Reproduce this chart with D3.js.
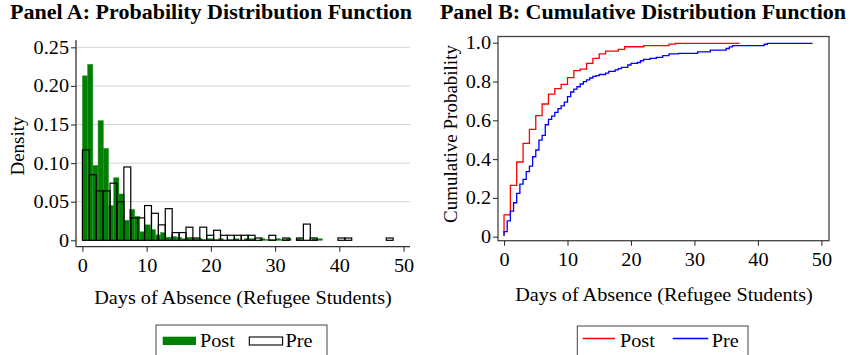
<!DOCTYPE html>
<html>
<head>
<meta charset="utf-8">
<script src="https://cdn.jsdelivr.net/npm/d3@7"></script>
<style>
  html, body { margin: 0; padding: 0; background: #fff; }
  svg { display: block; }
  text { font-family: "Liberation Serif", "Times New Roman", serif; fill: #000; }
</style>
</head>
<body>
<svg id="chart" width="855" height="355"></svg>
<script>
// ---------------- DATA ----------------
const xTicks = [0, 10, 20, 30, 40, 50];
const xTickLabels = ["0", "10", "20", "30", "40", "50"];
const densityTicks = [0, 0.05, 0.10, 0.15, 0.20, 0.25];
const densityTickLabels = ["0", "0.05", "0.10", "0.15", "0.20", "0.25"];
const cumTicks = [0, 0.2, 0.4, 0.6, 0.8, 1.0];
const cumTickLabels = ["0", "0.2", "0.4", "0.6", "0.8", "1.0"];

// Histogram (density per bin, bins start at 0)
const postBinWidth = 0.8125;
const postDensity = [
  0.213, 0.228, 0.097, 0.155, 0.119, 0.045, 0.081, 0.060, 0.026, 0.040,
  0.031, 0.011, 0.020, 0.014, 0.007, 0.010, 0.004, 0.005, 0.004, 0.002,
  0.004, 0.002, 0.002, 0.001, 0.002, 0.001, 0.002, 0.000, 0.001, 0.002,
  0.000, 0.002, 0.002, 0.000, 0.002, 0.001, 0.001, 0.002, 0.001, 0.002,
  0.000, 0.002, 0.000, 0.000, 0.002, 0.002
];
const preBinWidth = 1.075;
const preDensity = [
  0.117, 0.085, 0.064, 0.064, 0.074, 0.050, 0.095, 0.029, 0.029, 0.045,
  0.035, 0.020, 0.041, 0.010, 0.010, 0.017, 0.003, 0.017, 0.0065, 0.013,
  0.0065, 0.0065, 0.0065, 0.0065, 0.0065, 0.003, 0.000, 0.0065, 0.000, 0.003,
  0.000, 0.003, 0.021, 0.003, 0.000, 0.000, 0.000, 0.003, 0.003, 0.000,
  0.000, 0.000, 0.000, 0.000, 0.003
];

// Empirical CDFs (step after each day value)
const postCdfDays = [0, 0, 1, 2, 3, 4, 5, 6, 7, 8, 9, 10, 11, 12, 13, 14, 15, 16, 18, 19, 22, 26, 27, 37];
const postCdfVals = [0.005, 0.112, 0.265, 0.385, 0.481, 0.553, 0.624, 0.684, 0.735, 0.763, 0.785, 0.820, 0.856, 0.864, 0.893, 0.919, 0.942, 0.957, 0.966, 0.979, 0.985, 0.993, 0.997, 1.0];
const preCdfDays = [0, 0, 0.5, 1, 1.5, 2, 2.5, 3, 3.5, 4, 4.5, 5, 5.5, 6, 6.5, 7, 7.5, 8, 8.5, 9, 9.5, 10,
  10.5, 11, 11.5, 12, 12.5, 13, 13.5, 14, 14.5, 15, 16, 16.5, 17.5, 18, 18.5, 19.5, 20, 21, 21.5, 22, 23,
  24, 25, 26, 27.5, 30.5, 32.5, 35, 35.5, 36, 41, 41.5, 48.5];
const preCdfVals = [0.005, 0.026, 0.082, 0.132, 0.175, 0.223, 0.271, 0.296, 0.335, 0.364, 0.412, 0.447, 0.498, 0.522, 0.577, 0.605, 0.622, 0.641, 0.660, 0.674, 0.694, 0.722,
  0.746, 0.761, 0.773, 0.787, 0.799, 0.808, 0.818, 0.826, 0.830, 0.836, 0.843, 0.852, 0.860, 0.866, 0.873, 0.885, 0.893, 0.898, 0.907, 0.914, 0.919,
  0.924, 0.933, 0.942, 0.945, 0.953, 0.962, 0.970, 0.978, 0.985, 0.992, 0.997, 1.0];

const seriesNames = ["Post", "Pre"];
const titles = ["Panel A: Probability Distribution Function", "Panel B: Cumulative Distribution Function"];
const xTitle = "Days of Absence (Refugee Students)";
const yTitles = ["Density", "Cumulative Probability"];

// ---------------- DRAW ----------------
const svg = d3.select("#chart");
const GREEN = "#008000", RED = "#ff0000", BLUE = "#0000ff", AXIS = "#333";
const SX = 1.065;   // horizontal stretch of horizontal text
const FS = 19;      // base font size

function hText(x, y, str, opts = {}) {
  const g = svg.append("g").attr("transform", `translate(${x},${y}) scale(${opts.sx || SX},1)`);
  return g.append("text").attr("x", 0).attr("y", 0)
    .attr("text-anchor", opts.anchor || "start")
    .attr("font-size", opts.size || FS)
    .attr("font-weight", opts.bold ? "bold" : "normal")
    .text(str);
}

// ---- Panel A ----
const A = { left: 76, right: 410, top: 40, bottom: 246.7 };
const xA = d3.scaleLinear().domain([-1, 51]).range([A.left, A.right]);
const yA = d3.scaleLinear().domain([0, 0.25]).range([240.3, 47.3]);
const gA = svg.append("g");

gA.selectAll("line.grid").data(densityTicks.filter(d => d > 0)).join("line")
  .attr("x1", A.left).attr("x2", A.right)
  .attr("y1", d => yA(d)).attr("y2", d => yA(d))
  .attr("stroke", "#d4d4d4").attr("stroke-width", 1);

gA.selectAll("rect.post").data(postDensity.map((d, i) => ({ i, d })).filter(o => o.d > 0)).join("rect")
  .attr("x", o => xA(o.i * postBinWidth))
  .attr("width", o => xA((o.i + 1) * postBinWidth) - xA(o.i * postBinWidth))
  .attr("y", o => yA(o.d))
  .attr("height", o => yA(0) - yA(o.d))
  .attr("fill", GREEN).attr("stroke", "#2f8f2f").attr("stroke-width", 0.5);

gA.selectAll("rect.pre").data(preDensity.map((d, i) => ({ i, d })).filter(o => o.d > 0)).join("rect")
  .attr("x", o => xA(o.i * preBinWidth))
  .attr("width", o => xA((o.i + 1) * preBinWidth) - xA(o.i * preBinWidth))
  .attr("y", o => yA(o.d))
  .attr("height", o => yA(0) - yA(o.d))
  .attr("fill", "none").attr("stroke", "#000").attr("stroke-width", 1.2);

const axBA = gA.append("g").attr("transform", `translate(0,${A.bottom})`)
  .call(d3.axisBottom(xA).tickValues(xTicks).tickFormat((d, i) => xTickLabels[i]).tickSizeOuter(0).tickSize(5).tickPadding(7));
const axLA = gA.append("g").attr("transform", `translate(${A.left},0)`)
  .call(d3.axisLeft(yA).tickValues(densityTicks).tickFormat((d, i) => densityTickLabels[i]).tickSizeOuter(0).tickSize(5).tickPadding(2));
axBA.select(".domain").attr("d", `M${A.left},0H${A.right}`);
axLA.select(".domain").attr("d", `M0,${A.top}V${A.bottom}`);

// ---- Panel B ----
const B = { left: 498, right: 829, top: 36.5, bottom: 240.7 };
const xB = d3.scaleLinear().domain([-0.95, 51.2]).range([B.left, B.right]);
const yB = d3.scaleLinear().domain([0, 1]).range([236.7, 42.7]);
const gB = svg.append("g");

const stepLine = d3.line().x(p => xB(p[0])).y(p => yB(p[1])).curve(d3.curveStepAfter);
gB.append("path").datum(postCdfDays.map((d, i) => [d, postCdfVals[i]]))
  .attr("d", stepLine).attr("fill", "none").attr("stroke", RED).attr("stroke-width", 1.3);
gB.append("path").datum(preCdfDays.map((d, i) => [d, preCdfVals[i]]))
  .attr("d", stepLine).attr("fill", "none").attr("stroke", BLUE).attr("stroke-width", 1.3);

gB.append("rect").attr("x", B.left).attr("y", B.top)
  .attr("width", B.right - B.left).attr("height", B.bottom - B.top)
  .attr("fill", "none").attr("stroke", "#444").attr("stroke-width", 1.3);

const axBB = gB.append("g").attr("transform", `translate(0,${B.bottom})`)
  .call(d3.axisBottom(xB).tickValues(xTicks).tickFormat((d, i) => xTickLabels[i]).tickSizeOuter(0).tickSize(5).tickPadding(7));
const axLB = gB.append("g").attr("transform", `translate(${B.left},0)`)
  .call(d3.axisLeft(yB).tickValues(cumTicks).tickFormat((d, i) => cumTickLabels[i]).tickSizeOuter(0).tickSize(5).tickPadding(2));
axBB.select(".domain").remove();
axLB.select(".domain").remove();

svg.selectAll(".tick line").attr("stroke", AXIS).attr("stroke-width", 1.1);
svg.selectAll(".domain").attr("stroke", AXIS).attr("stroke-width", 1.3);
svg.selectAll(".tick text").attr("font-size", FS).attr("font-family", "Liberation Serif").attr("fill", "#000")
  .each(function () {
    const t = d3.select(this);
    const x = +t.attr("x") || 0;
    t.attr("x", x / SX).attr("transform", `scale(${SX},1)`);
  });

// ---- Titles ----
hText(211, 18.5, titles[0], { anchor: "middle", size: 20.5, bold: true, sx: 1.075 });
hText(643, 18.5, titles[1], { anchor: "middle", size: 20.5, bold: true, sx: 1.075 });
hText(243, 304, xTitle, { anchor: "middle" });
hText(664, 301, xTitle, { anchor: "middle" });

svg.append("text").attr("transform", "translate(24,146) rotate(-90)").attr("text-anchor", "middle")
  .attr("font-size", FS).text(yTitles[0]);
svg.append("text").attr("transform", "translate(457,134) rotate(-90)").attr("text-anchor", "middle")
  .attr("font-size", FS).text(yTitles[1]);

// ---- Legends ----
svg.append("rect").attr("x", 156).attr("y", 325).attr("width", 171).attr("height", 40)
  .attr("fill", "#fff").attr("stroke", "#444").attr("stroke-width", 1);
svg.append("rect").attr("x", 162.7).attr("y", 336.7).attr("width", 33.3).attr("height", 8.3).attr("fill", GREEN);
hText(200, 346.5, seriesNames[0]);
svg.append("rect").attr("x", 249.3).attr("y", 337).attr("width", 33.3).attr("height", 8)
  .attr("fill", "none").attr("stroke", "#000").attr("stroke-width", 1.1);
hText(285.5, 346.5, seriesNames[1]);

svg.append("rect").attr("x", 577.3).attr("y", 326).attr("width", 170.7).attr("height", 40)
  .attr("fill", "#fff").attr("stroke", "#444").attr("stroke-width", 1);
svg.append("line").attr("x1", 582.7).attr("x2", 615).attr("y1", 338.5).attr("y2", 338.5)
  .attr("stroke", RED).attr("stroke-width", 1.3);
hText(620, 346.5, seriesNames[0]);
svg.append("line").attr("x1", 672.7).attr("x2", 708.3).attr("y1", 338.5).attr("y2", 338.5)
  .attr("stroke", BLUE).attr("stroke-width", 1.3);
hText(711.7, 346.5, seriesNames[1]);
</script>
</body>
</html>
